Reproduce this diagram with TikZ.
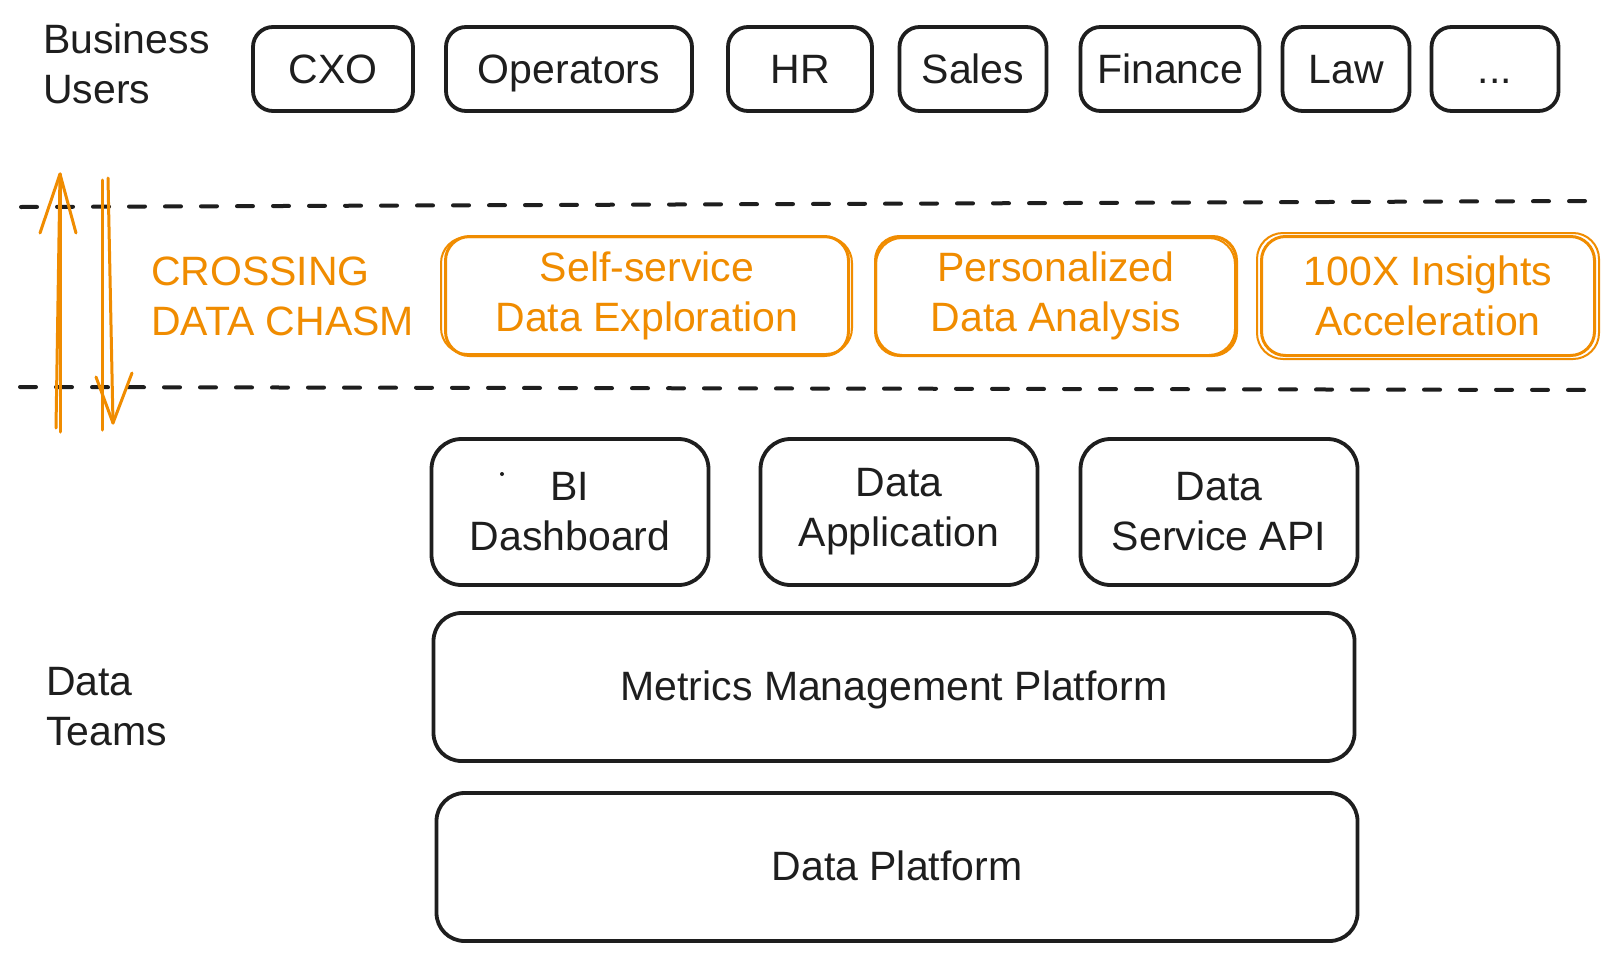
\documentclass[tikz,border=0pt]{standalone}
\usepackage{fontspec}
\setmainfont{Liberation Sans}
\definecolor{ink}{HTML}{1E1E1E}
\definecolor{orng}{HTML}{F08C00}
\begin{document}
\begin{tikzpicture}[x=1pt,y=-1pt,
  txt/.style={font=\fontsize{41}{50}\selectfont, text=ink, align=center, inner sep=0pt},
  userbox/.style={txt, draw=ink, line width=3.8pt, rounded corners=20pt, minimum height=84pt, text height=30pt, text depth=2pt},
  chasmbox/.style={txt, text=orng, draw=orng, line width=3pt, rounded corners=24pt, minimum height=119pt},
  sketchline/.style={draw=orng, line width=2pt, rounded corners=26pt},
  appbox/.style={txt, draw=ink, line width=3.8pt, rounded corners=30pt, minimum height=146pt, minimum width=277pt},
  platbox/.style={txt, draw=ink, line width=3.8pt, rounded corners=28pt, minimum height=148pt, minimum width=921pt, text height=30pt, text depth=3pt},
  sidelabel/.style={font=\fontsize{41}{50}\selectfont, text=ink, align=left, inner sep=0pt},
  divider/.style={draw=ink, line width=4pt, line cap=round, dash pattern=on 16pt off 20pt},
  chasmarrow/.style={draw=orng, line width=3pt, line cap=round, line join=round}]
\useasboundingbox[fill=white] (0,0) rectangle (1619,961);

% Business users
\node[sidelabel, anchor=north west] (bu) at (43,24) {Business\\Users};
\node[userbox, minimum width=160pt] (cxo) at (333,69) {CXO};
\node[userbox, minimum width=246pt] (ops) at (569,69) {Operators};
\node[userbox, minimum width=144pt] (hr) at (800,69) {HR};
\node[userbox, minimum width=147pt] (sales) at (973,69) {Sales};
\node[userbox, minimum width=179pt] (fin) at (1170,69) {Finance};
\node[userbox, minimum width=127pt] (law) at (1346,69) {Law};
\node[userbox, minimum width=127pt] (more) at (1495,69) {...};

% dividers
\coordinate (t1) at (21,207);
\coordinate (t2) at (1590,201);
\coordinate (b1) at (20,387);
\coordinate (b2) at (1590,390);
\draw[divider] (t1) -- (t2);
\draw[divider] (b1) -- (b2);

% chasm arrows
\coordinate (uptail) at (60,432);
\coordinate (uptip) at (60,174);
\coordinate (uptail2) at (56,428);
\coordinate (upL) at (40,233);
\coordinate (upR) at (76,233);
\draw[chasmarrow] (uptail) -- (uptip);
\draw[chasmarrow] (uptail2) -- (uptip);
\draw[chasmarrow] (upL) -- (uptip) -- (upR);
\coordinate (dntail) at (108,178);
\coordinate (dntip) at (113,423);
\coordinate (dntail2) at (102,180);
\coordinate (dnend2) at (102,430);
\coordinate (dnL) at (96,377);
\coordinate (dnR) at (132,373);
\draw[chasmarrow] (dntail) -- (dntip);
\draw[chasmarrow] (dntail2) -- (dnend2);
\draw[chasmarrow] (dnL) -- (dntip) -- (dnR);

\node[sidelabel, text=orng, anchor=north west] (chasm) at (151,257) {CROSSING\\DATA CHASM};
\node[chasmbox, minimum width=403pt] (self) at (647,296) {Self-service\\Data Exploration};
\node[chasmbox, minimum width=361pt] (pers) at (1056,296) {Personalized\\Data Analysis};
\node[chasmbox, minimum width=333pt] (accel) at (1428,296) {100X Insights\\Acceleration};
\draw[sketchline] ([xshift=-3pt,yshift=-2pt]self.north west) rectangle ([xshift=2pt,yshift=3pt]self.south east);
\draw[sketchline] ([xshift=2pt,yshift=-3pt]pers.north west) rectangle ([xshift=-3pt,yshift=2pt]pers.south east);
\draw[sketchline] ([xshift=-3pt,yshift=2pt]accel.north west) rectangle ([xshift=3pt,yshift=-2pt]accel.south east);

% data products
\node[appbox] (bi) at (570,512) {BI\\Dashboard};
\fill[ink] (502,474) circle (2pt);
\node[appbox] (app) at (899,512) {Data\\Application};
\node[appbox] (api) at (1219,512) {Data\\Service API};

\node[platbox] (mmp) at (894,687) {Metrics Management Platform};
\node[platbox] (dp) at (897,867) {Data Platform};

\node[sidelabel, anchor=north west] (dt) at (46,667) {Data\\Teams};
\end{tikzpicture}
\end{document}
